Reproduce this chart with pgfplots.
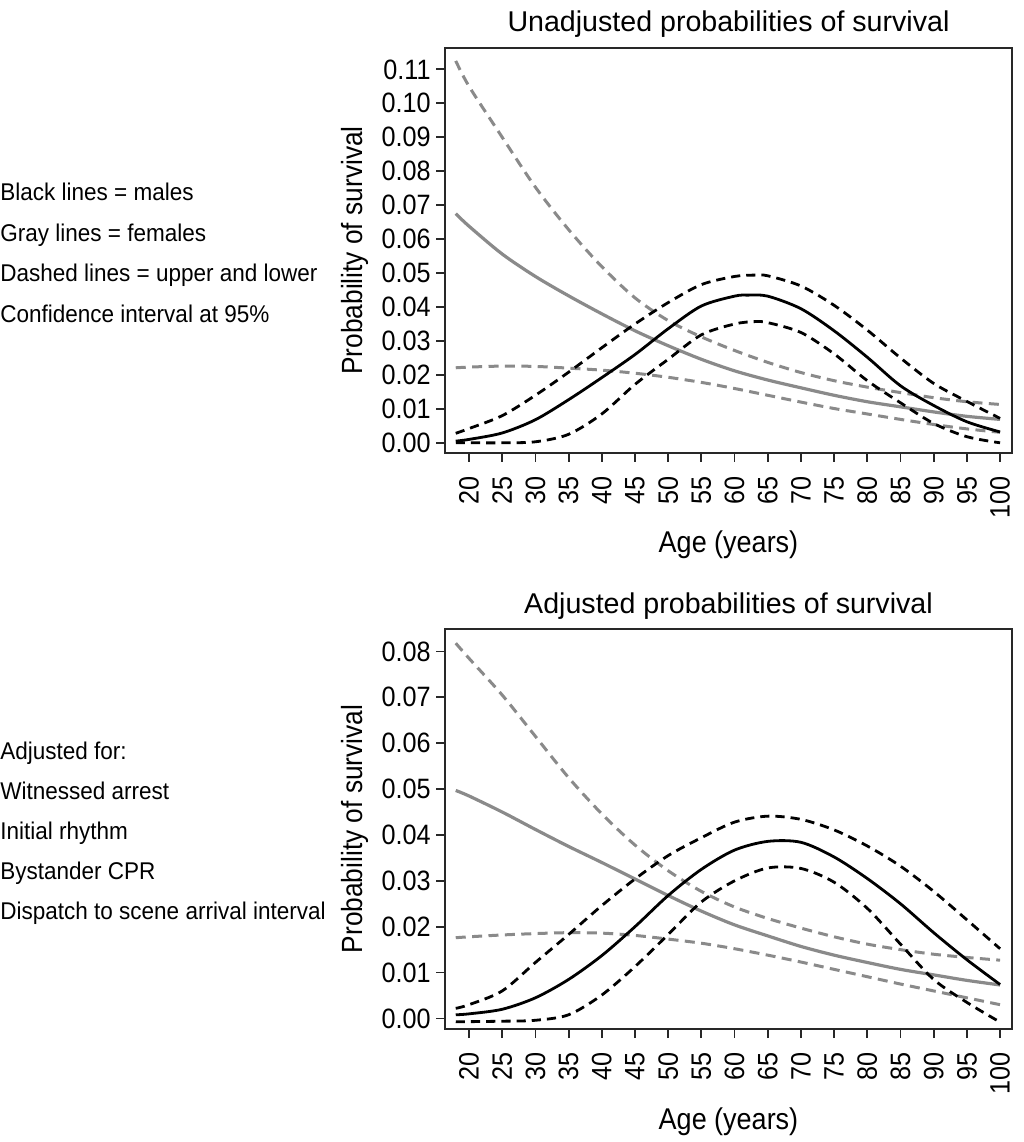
\documentclass[border=0pt]{standalone}
\usepackage{pgfplots}
\pgfplotsset{compat=1.18}
\usepackage{fontspec}
\setmainfont{Liberation Sans}
\newfontfamily\condA{Liberation Sans}[FakeStretch=0.9]
\newfontfamily\condB{Liberation Sans}[FakeStretch=0.93]
\definecolor{lgray}{RGB}{138,138,138}
\definecolor{frame}{RGB}{40,40,40}

% Top (unadjusted)
\pgfplotstableread{
x y
18 0.0675
20 0.0638
25 0.0556
30 0.0490
35 0.0433
40 0.0380
45 0.0330
50 0.0286
55 0.0246
60 0.0212
65 0.0185
70 0.0162
75 0.0140
80 0.0121
85 0.0106
90 0.0091
95 0.0078
100 0.0069
}\UFest
\pgfplotstableread{
x y
18 0.1125
20 0.1050
25 0.0900
30 0.0753
35 0.0628
40 0.0519
45 0.0427
50 0.0360
55 0.0312
60 0.0272
65 0.0237
70 0.0207
75 0.0183
80 0.0164
85 0.0148
90 0.0133
95 0.0121
100 0.0113
}\UFup
\pgfplotstableread{
x y
18 0.0221
20 0.0223
25 0.0226
30 0.0225
35 0.0220
40 0.0214
45 0.0205
50 0.0193
55 0.0178
60 0.0160
65 0.0140
70 0.0120
75 0.0101
80 0.0085
85 0.0069
90 0.0054
95 0.0041
100 0.0031
}\UFlo
\pgfplotstableread{
x y
18 0.0005
20 0.0010
25 0.0029
30 0.0068
35 0.0127
40 0.0192
45 0.0260
50 0.0336
55 0.0403
60 0.0432
62 0.0435
65 0.0432
70 0.0395
75 0.0330
80 0.0252
85 0.0168
90 0.0110
95 0.0062
100 0.0032
}\UMest
\pgfplotstableread{
x y
18 0.0028
20 0.0042
25 0.0080
30 0.0140
35 0.0208
40 0.0280
45 0.0350
50 0.0413
55 0.0466
60 0.0490
63 0.0494
65 0.0492
70 0.0462
75 0.0405
80 0.0332
85 0.0250
90 0.0175
95 0.0122
100 0.0072
}\UMup
\pgfplotstableread{
x y
18 0.0000
20 0.0000
25 0.0000
30 0.0003
35 0.0025
40 0.0085
45 0.0172
50 0.0246
55 0.0318
60 0.0350
63 0.0357
65 0.0354
70 0.0325
75 0.0262
80 0.0183
85 0.0118
90 0.0057
95 0.0018
100 0.0000
}\UMlo

% Bottom (adjusted)
\pgfplotstableread{
x y
18 0.0497
20 0.0485
25 0.0450
30 0.0412
35 0.0375
40 0.0340
45 0.0304
50 0.0268
55 0.0234
60 0.0204
65 0.0180
70 0.0157
75 0.0138
80 0.0122
85 0.0107
90 0.0095
95 0.0083
100 0.0073
}\AFest
\pgfplotstableread{
x y
18 0.0818
20 0.0785
25 0.0705
30 0.0615
35 0.0525
40 0.0446
45 0.0378
50 0.0322
55 0.0277
60 0.0243
65 0.0218
70 0.0197
75 0.0178
80 0.0162
85 0.0150
90 0.0140
95 0.0133
100 0.0127
}\AFup
\pgfplotstableread{
x y
18 0.0176
20 0.0178
25 0.0182
30 0.0185
35 0.0187
40 0.0186
45 0.0181
50 0.0173
55 0.0164
60 0.0152
65 0.0138
70 0.0123
75 0.0107
80 0.0091
85 0.0075
90 0.0060
95 0.0045
100 0.0030
}\AFlo
\pgfplotstableread{
x y
18 0.0008
20 0.0010
25 0.0020
30 0.0045
35 0.0085
40 0.0137
45 0.0200
50 0.0268
55 0.0325
60 0.0367
65 0.0386
70 0.0384
75 0.0352
80 0.0305
85 0.0250
90 0.0187
95 0.0128
100 0.0074
}\AMest
\pgfplotstableread{
x y
18 0.0022
20 0.0030
25 0.0060
30 0.0122
35 0.0183
40 0.0246
45 0.0304
50 0.0355
55 0.0394
60 0.0428
65 0.0441
70 0.0434
75 0.0411
80 0.0376
85 0.0332
90 0.0277
95 0.0215
100 0.0152
}\AMup
\pgfplotstableread{
x y
18 -0.0007
20 -0.0007
25 -0.0006
30 -0.0004
35 0.0008
40 0.0051
45 0.0113
50 0.0183
55 0.0254
60 0.0300
65 0.0328
70 0.0327
75 0.0297
80 0.0240
85 0.0162
90 0.0085
95 0.0035
100 -0.0008
}\AMlo

\pgfplotsset{
  survstyle/.style={
    scale only axis,
    width=283.5pt,
    anchor=south west,
    xmin=16.38, xmax=101.8,
    xtick={20,25,...,100},
    axis line style={frame, line width=0.9pt},
    tick style={frame, line width=0.9pt},
    tick align=outside,
    major tick length=4.5pt,
    xtick pos=bottom, ytick pos=left,
    /pgf/number format/assume math mode=true,
    tick label style={font=\condA\fontsize{14}{16}\selectfont},
    xticklabel style={rotate=90, anchor=east, inner sep=0pt},
    yticklabel style={anchor=east, inner sep=0pt},
    y tick label style={/pgf/number format/fixed, /pgf/number format/fixed zerofill, /pgf/number format/precision=2},
    scaled y ticks=false,
    xticklabel shift=7pt,
    yticklabel shift=2.5pt,
    every axis title shift=0pt,
    title style={at={(0.5,1)}, anchor=base, yshift=8pt, font=\fontsize{14.3}{16}\selectfont},
    every axis x label/.style={at={(axis description cs:0.5,0)}, anchor=base, yshift=-50pt, font=\condA\fontsize{15}{17}\selectfont},
    every axis y label/.style={at={(axis description cs:0,0.5)}, xshift=-41.5pt, rotate=90, anchor=base, font=\condA\fontsize{14.6}{17}\selectfont},
    xlabel={Age (years)},
    ylabel={Probability of survival},
    clip=true,
  },
  fest/.style={lgray, line width=1.6pt, smooth},
  fci/.style={lgray, line width=1.5pt, smooth, dash pattern=on 5pt off 3.2pt},
  mest/.style={black, line width=1.4pt, smooth},
  mci/.style={black, line width=1.4pt, smooth, dash pattern=on 4.6pt off 3pt},
}

\begin{document}
\begin{tikzpicture}
\useasboundingbox (0,0) rectangle (512pt,571pt);

\begin{axis}[survstyle,
  at={(222.5pt,344.5pt)}, height=202.5pt,
  ymin=-0.0030, ymax=0.1163,
  ytick={0,0.01,0.02,0.03,0.04,0.05,0.06,0.07,0.08,0.09,0.10,0.11},
  title={Unadjusted probabilities of survival}]
\addplot[fci] table {\UFup};
\addplot[fci] table {\UFlo};
\addplot[fest] table {\UFest};
\addplot[mci] table {\UMup};
\addplot[mci] table {\UMlo};
\addplot[mest] table {\UMest};
\end{axis}

\begin{axis}[survstyle,
  at={(222.5pt,56.5pt)}, height=200pt,
  ymin=-0.0023, ymax=0.0849,
  ytick={0,0.01,0.02,0.03,0.04,0.05,0.06,0.07,0.08},
  title={Adjusted probabilities of survival}]
\addplot[fci] table {\AFup};
\addplot[fci] table {\AFlo};
\addplot[fest] table {\AFest};
\addplot[mci] table {\AMup};
\addplot[mci] table {\AMlo};
\addplot[mest] table {\AMest};
\end{axis}

\begin{scope}[every node/.style={anchor=base west, inner sep=0pt, font=\condB\fontsize{12.1}{14}\selectfont}]
\node at (0pt,470.5pt) {Black lines = males};
\node at (0pt,450.3pt) {Gray lines = females};
\node at (0pt,430.1pt) {Dashed lines = upper and lower};
\node at (0pt,409.9pt) {Confidence interval at 95\%};
\node at (0pt,191pt) {Adjusted for:};
\node at (0pt,171pt) {Witnessed arrest};
\node at (0pt,151pt) {Initial rhythm};
\node at (0pt,131pt) {Bystander CPR};
\node at (0pt,111pt) {Dispatch to scene arrival interval};
\end{scope}
\end{tikzpicture}
\end{document}
